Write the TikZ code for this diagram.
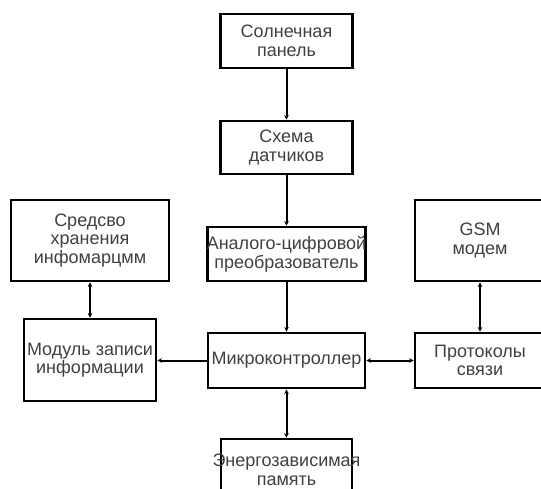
\documentclass[tikz,border=0pt]{standalone}
\usepackage{fontspec}
\setmainfont{Liberation Sans}
\usetikzlibrary{arrows.meta}
\begin{document}
\begin{tikzpicture}[x=1pt,y=-1pt,
  box/.style={draw, line width=2.8pt, inner sep=0pt},
  txt/.style={font=\fontsize{18}{18.5}\selectfont, align=center, inner sep=0pt, text=black!75},
  conn/.style={line width=2pt},
  tipone/.style={-{Stealth[length=4.5pt,width=4.5pt]}},
  tipboth/.style={{Stealth[length=4.5pt,width=4.5pt]}-{Stealth[length=4.5pt,width=4.5pt]}}]
\useasboundingbox (0,0) rectangle (541,488);
\clip (0,0) rectangle (541,488);
\fill[white] (0,0) rectangle (541,488);
% boxes
\node[box, minimum width=132pt, minimum height=54pt] (solar) at (286.5,41) {};
\node[box, minimum width=132pt, minimum height=53pt] (schema) at (286.5,147.5) {};
\node[box, minimum width=158pt, minimum height=81pt] (sredsvo) at (90,240.5) {};
\node[box, minimum width=158pt, minimum height=54pt] (adc) at (286.5,254) {};
\node[box, minimum width=130pt, minimum height=81pt] (gsm) at (480,240.5) {};
\node[box, minimum width=132pt, minimum height=82pt] (module) at (90,360) {};
\node[box, minimum width=157pt, minimum height=55pt] (micro) at (286.5,360.5) {};
\node[box, minimum width=130pt, minimum height=55pt] (protocol) at (480,360.5) {};
\node[box, minimum width=131pt, minimum height=62pt] (energy) at (286.5,470) {};
% texts
\node[txt] (tsolar) at (solar.center) {Солнечная\\панель};
\node[txt] (tschema) at (schema.center) {Схема\\датчиков};
\node[txt] (tsredsvo) at (sredsvo.center) {Средсво\\хранения\\инфомарцмм};
\node[txt] (tadc) at (adc.center) {Аналого-цифровой\\преобразователь};
\node[txt] (tgsm) at (gsm.center) {GSM\\модем};
\node[txt] (tmodule) at (module.center) {Модуль записи\\информации};
\node[txt] (tmicro) at (micro.center) {Микроконтроллер};
\node[txt] (tprotocol) at (protocol.center) {Протоколы\\связи};
\node[txt] (tenergy) at (energy.center) {Энергозависимая\\память};
% connectors
\draw[conn, tipone] (solar) -- (schema);
\draw[conn, tipone] (schema) -- (adc);
\draw[conn, tipone] (adc) -- (micro);
\draw[conn, tipboth] (sredsvo) -- (module);
\draw[conn, tipone] (micro.west) -- (module.east |- micro.west);
\draw[conn, tipboth] (micro) -- (protocol);
\draw[conn, tipboth] (gsm) -- (protocol);
\draw[conn, tipboth] (micro) -- (energy);
\end{tikzpicture}
\end{document}
